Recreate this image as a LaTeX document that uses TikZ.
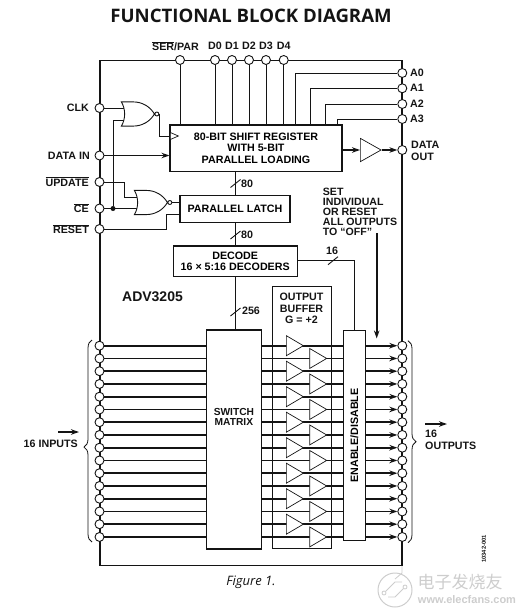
\documentclass[tikz,border=0pt]{standalone}
\usepackage{fontspec}
\setmainfont{Liberation Sans}
\newfontfamily\headfont{Open Sans}
\newfontfamily\cjkmark{Noto Sans CJK SC}
\usetikzlibrary{shapes.geometric, shapes.gates.logic.US, arrows.meta, decorations.pathreplacing}
\definecolor{cInk}{RGB}{20,20,20}
\definecolor{cMark}{RGB}{205,205,205}
\newcommand{\ovl}[1]{$\overline{\mbox{#1}}$}
\tikzset{
	blk/.style      ={rectangle, draw=cInk, line width=1.1pt, fill=white, align=center, font=\txtfont, inner sep=0pt},
	pin/.style      ={circle, draw=cInk, line width=0.9pt, fill=white, minimum size=9pt, inner sep=0pt},
	buf/.style      ={isosceles triangle, isosceles triangle stretches, draw=cInk, line width=0.7pt, fill=white, minimum width=20pt, minimum height=17pt, inner sep=0pt, anchor=lower side},
	norgate/.style  ={nor gate US, draw=cInk, fill=white, line width=0.9pt, logic gate inputs=nn, logic gate input sep=7pt, logic gate inverted radius=2pt, minimum width=33pt, minimum height=23pt, inner sep=0pt},
	txt/.style      ={font=\txtfont, text=cInk, inner sep=0pt, align=left},
	wire/.style     ={draw=cInk, line width=0.9pt},
	bus/.style      ={draw=cInk, line width=1.7pt},
	sig/.style      ={draw=cInk, line width=1.7pt, -{Stealth[length=8pt, width=5.5pt]}},
	curly/.style    ={draw=cInk, line width=0.8pt, decorate},
}
\newcommand{\txtfont}{\bfseries\fontsize{10.7}{11.3}\selectfont}
\begin{document}
\begin{tikzpicture}[x=1pt, y=-1pt]
	\useasboundingbox (0,0) rectangle (523,616);
	\node[font=\headfont\bfseries\fontsize{18.6}{20}\selectfont, text=cInk, inner sep=0pt] (title) at (251,16) {FUNCTIONAL BLOCK DIAGRAM};
	\node[font=\headfont\itshape\fontsize{13}{15}\selectfont, text=cInk, inner sep=0pt] (fig) at (251,582) {Figure 1.};
	\node[font=\bfseries\fontsize{5.8}{6}\selectfont, text=cInk, rotate=90, inner sep=0pt] (code) at (484,549) {10342-001};
	% chip outline and output buffer panel
	\node[rectangle, draw=cInk, line width=1.3pt, minimum width=302pt, minimum height=505.5pt, inner sep=0pt] (chip) at (251,313) {};
	\node[blk, minimum width=58.5pt, minimum height=262pt] (obuf) at (302,417.7) {};
	\node[txt, align=center] (obuftxt) at (301.5,308.5) {OUTPUT\\BUFFER\\G = +2};
	% blocks
	\node[blk, minimum width=172pt, minimum height=46.7pt] (sreg) at (256,148.3) {80-BIT SHIFT REGISTER\\WITH 5-BIT\\PARALLEL LOADING};
	\node[blk, minimum width=110pt, minimum height=26.3pt] (latch) at (235,208.9) {PARALLEL LATCH};
	\node[blk, minimum width=123.7pt, minimum height=30.7pt] (dec) at (235.2,261.3) {DECODE\\16 × 5:16 DECODERS};
	\node[blk, minimum width=54.3pt, minimum height=219pt] (mtx) at (233.9,439.5) {};
	\node[txt, align=center, font=\bfseries\fontsize{10.2}{10}\selectfont] (mtxtxt) at (233.9,417) {SWITCH\\MATRIX};
	\node[blk, minimum width=22.7pt, minimum height=210.7pt] (en) at (354.4,435.4) {\rotatebox{90}{ENABLE/DISABLE}};
	% top pins
	\node[pin] (pser) at (180,60) {};
	\node[txt] (lser) at (175.5,46) {\ovl{SER}/PAR};
	\draw[wire] (pser) -- (pser |- sreg.north);
	\foreach \n/\x in {0/215,1/232,2/249,3/266,4/283.7} {
		\node[pin] (pd\n) at (\x,60) {};
		\node[txt] (ld\n) at (\x,46) {D\n};
		\draw[wire] (pd\n) -- (pd\n |- sreg.north);
	}
	% address pins
	\foreach \n/\y/\x in {0/73/295,1/88.3/310,2/104/325.7,3/119/337} {
		\coordinate (ka\n) at (\x,125);
		\node[pin] (pa\n) at (402.3,\y) {};
		\node[txt, anchor=west] (la\n) at (410,\y) {A\n};
		\draw[wire] (pa\n) -| (ka\n);
	}
	% left pins
	\node[pin] (pclk) at (99.5,108) {};
	\node[pin] (pdin) at (99.5,155.5) {};
	\node[pin] (pupd) at (99.5,182) {};
	\node[pin] (pce) at (99.5,208.5) {};
	\node[pin] (prst) at (99.5,229) {};
	\node[txt, anchor=east] (lclk) at (89,108) {CLK};
	\node[txt, anchor=east] (ldin) at (90,155.5) {DATA IN};
	\node[txt, anchor=east] (lupd) at (89,181.5) {\ovl{UPDATE}};
	\node[txt, anchor=east] (lce) at (89,208) {\ovl{CE}};
	\node[txt, anchor=east] (lrst) at (89,229) {\ovl{RESET}};
	% control logic
	\node[circle, fill=cInk, minimum size=5pt, inner sep=0pt] (dot) at (113,208.5) {};
	\node[buf, minimum width=7pt, minimum height=8pt] (ck) at (170,136) {};
	\coordinate (knor) at (159,136);
	\coordinate (kupd) at (124,197);
	\coordinate (krst) at (166,214);
	\coordinate (kcka) at (135,108);
	\coordinate (kckb) at (135,120);
	\coordinate (kupb) at (148,197);
	\coordinate (kceb) at (148,208.5);
	\draw[wire] (pclk) -- (kcka);
	\draw[wire] (dot) |- (kckb);
	\draw[wire] (pce) -- (kceb);
	\draw[wire] (pupd) -| (kupd) -- (kupb);
	\node[norgate] (nor1) at (135.5,114) {};
	\node[norgate] (nor2) at (148.5,202.5) {};
	\draw[wire] (nor1.output) -| (knor) -- (ck.lower side);
	\draw[wire] (nor2.output) -- (latch.west |- nor2.output);
	\draw[wire] (prst) -| (krst) -- (latch.west |- krst);
	\draw[sig] (pdin) -- (sreg.west |- pdin);
	% data out
	\node[pin] (pout) at (402.3,150) {};
	\node[buf, minimum width=23.3pt, minimum height=20.7pt] (dbuf) at (360,150) {};
	\node[txt, font=\bfseries\fontsize{10.7}{12}\selectfont] (lout) at (411,151) [anchor=west] {DATA\\OUT};
	\draw[sig] (sreg.east |- dbuf.lower side) -- (dbuf.lower side);
	\draw[sig] (dbuf.apex) -- (pout);
	% bus links
	\coordinate (kdec) at (354.7,260.7);
	\draw[wire] (sreg.south -| latch) -- (latch.north);
	\draw[wire] (latch.south) -- (latch.south |- dec.north);
	\draw[wire] (dec.south) -- (dec.south |- mtx.north);
	\draw[wire] (dec.east |- kdec) -| (en.north -| kdec);
	\foreach \bx/\by in {235.5/183.5,235.5/235,235.5/312,333/260.7} {
		\draw[wire] (\bx-5,\by+4) -- (\bx+5,\by-4);
	}
	\node[txt] (l80a) at (247,184) {80};
	\node[txt] (l80b) at (247,235) {80};
	\node[txt] (l256) at (251,310.5) {256};
	\node[txt] (l16) at (332,251) {16};
	\node[txt, font=\bfseries\fontsize{14}{16}\selectfont] (lname) at (152.5,297) {ADV3205};
	% off control
	\node[txt, anchor=north west, font=\bfseries\fontsize{10.6}{10}\selectfont] (loff) at (322.7,187.5) {SET\\INDIVIDUAL\\OR RESET\\ALL OUTPUTS\\TO “OFF”};
	\coordinate (koffa) at (376.7,233);
	\coordinate (koffb) at (376.7,338.5);
	\draw[sig] (koffa) -- (koffb);
	% sixteen channels
	\foreach \i [evaluate=\i as \py using 345.7+12.75*\i, evaluate=\i as \bx using {mod(\i,2)==0 ? 286 : 309.3}] in {0,...,15} {
		\node[pin] (in\i) at (99.5,\py) {};
		\node[pin] (out\i) at (402.3,\py) {};
		\draw[bus] (in\i) -- (mtx.west |- in\i);
		\draw[bus] (mtx.east |- in\i) -- (en.west |- in\i);
		\draw[sig] (en.east |- out\i) -- (out\i);
		\node[buf] (buf\i) at (\bx,\py) {};
	}
	% braces and side labels
	\coordinate (bla) at (92,340);
	\coordinate (blb) at (92,542);
	\coordinate (bra) at (408,340.7);
	\coordinate (brb) at (408,542.7);
	\draw[curly, decoration={brace, amplitude=8pt, aspect=0.47}] (blb) -- (bla);
	\draw[curly, decoration={brace, amplitude=8pt, aspect=0.5}] (bra) -- (brb);
	\node[txt, anchor=east] (linp) at (78,444) {16 INPUTS};
	\coordinate (iaa) at (58,432);
	\coordinate (iab) at (79,432);
	\draw[sig] (iaa) -- (iab);
	\node[txt, anchor=north west, font=\bfseries\fontsize{10.7}{12}\selectfont] (lopt) at (425,429.5) {16\\OUTPUTS};
	\coordinate (oaa) at (425,424);
	\coordinate (oab) at (447,424);
	\draw[sig] (oaa) -- (oab);
	% site stamp
	\node[circle, draw=cMark, line width=1pt, minimum size=34pt, inner sep=0pt] (stamp) at (395,590) {};
	\node[circle, draw=cMark, line width=0.8pt, minimum size=4pt, inner sep=0pt] (stampa) at (384,593) {};
	\node[circle, draw=cMark, line width=0.8pt, minimum size=4pt, inner sep=0pt] (stampb) at (405,587) {};
	\draw[cMark, line width=0.8pt] (stampa) -- (395,582) -- (402,582);
	\draw[cMark, line width=0.8pt] (stampb) -- (395,597) -- (388,597);
	\draw[cMark, line width=0.8pt] (402,566) -- (402,573) -- (395,579);
	\node[font=\cjkmark\fontsize{17}{20}\selectfont, text=cMark, inner sep=0pt] (wmcn) at (460,582) {电子发烧友};
	\node[font=\bfseries\fontsize{11}{12}\selectfont, text=cMark, inner sep=0pt] (wmen) at (467,600) {www.elecfans.com};
\end{tikzpicture}
\end{document}
